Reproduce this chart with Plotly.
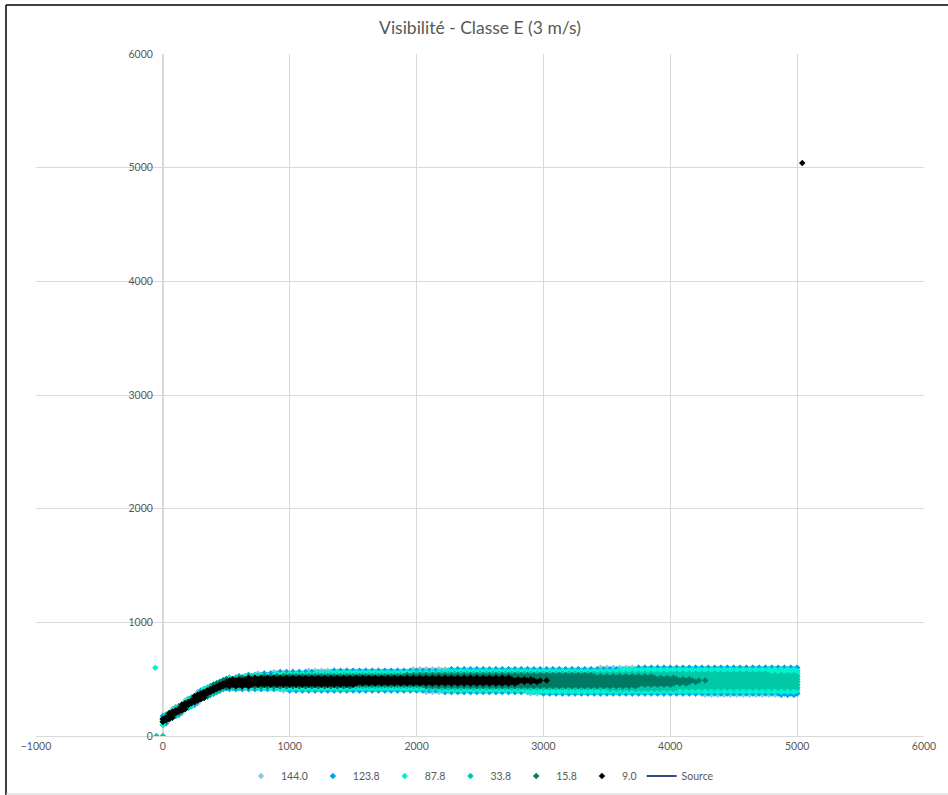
import numpy as np
import plotly.graph_objects as go

# ---- values ----
series_names = ["144.0", "123.8", "87.8", "33.8", "15.8", "9.0"]
series_colors = ["#8FC9DE", "#00A3E8", "#00F2D0", "#00C9A7", "#007A66", "#000000"]

# plume centre line (m)
center_x = [0, 100, 200, 300, 400, 500, 700, 1000, 2000, 3000, 4000, 5000]
center_y = [135, 210, 285, 355, 415, 462, 478, 485, 488, 485, 484, 484]

# half widths of each contour (m) at breakpoints
hw_x_144 = [0, 500, 700, 1000, 2000, 3000, 4000, 5000]
hw_144 = [45, 55, 70, 88, 100, 112, 120, 126]
hw_x_123 = [0, 500, 700, 1000, 2000, 3000, 4000, 5000]
hw_123 = [42, 52, 66, 85, 97, 110, 118, 122]
hw_x_87 = [0, 500, 700, 1000, 2000, 3000, 4000, 5000]
hw_87 = [38, 48, 60, 75, 85, 100, 105, 108]
hw_x_33 = [0, 500, 700, 1000, 2000, 3000, 4000, 5000]
hw_33 = [34, 42, 50, 55, 62, 72, 72, 64]
hw_x_15 = [0, 500, 700, 1000, 2000, 3000, 3700, 4000, 4330]
hw_15 = [30, 38, 45, 48, 50, 57, 50, 35, 0]
hw_x_9 = [0, 500, 700, 1000, 2000, 2500, 2800, 3080]
hw_9 = [28, 35, 40, 38, 35, 33, 25, 0]

# receptor grid spacing (m)
grid_dx = 25
grid_dy = 25

# isolated points
extra_x = {"87.8": [-60], "33.8": [-50, 0], "9.0": [5040]}
extra_y = {"87.8": [600], "33.8": [0, 0], "9.0": [5040]}

source_x = [0]
source_y = [0]

x_ticks = [-1000, 0, 1000, 2000, 3000, 4000, 5000, 6000]
y_ticks = [0, 1000, 2000, 3000, 4000, 5000, 6000]

profiles = {
    "144.0": (hw_x_144, hw_144),
    "123.8": (hw_x_123, hw_123),
    "87.8": (hw_x_87, hw_87),
    "33.8": (hw_x_33, hw_33),
    "15.8": (hw_x_15, hw_15),
    "9.0": (hw_x_9, hw_9),
}


def grid_points(hx, hw):
    xs, ys = [], []
    cols = np.arange(0, hx[-1] + 1, grid_dx)
    for i, cx in enumerate(cols):
        c = np.interp(cx, center_x, center_y)
        h = np.interp(cx, hx, hw)
        off = (grid_dy / 2) if i % 2 else 0.0
        k0 = int(np.floor((c - h - off) / grid_dy)) - 1
        k1 = int(np.ceil((c + h - off) / grid_dy)) + 1
        for k in range(k0, k1 + 1):
            yy = k * grid_dy + off
            if abs(yy - c) <= h:
                xs.append(cx)
                ys.append(yy)
    return xs, ys


fig = go.Figure()
for name, col in zip(series_names, series_colors):
    hx, hw = profiles[name]
    xs, ys = grid_points(hx, hw)
    xs += extra_x.get(name, [])
    ys += extra_y.get(name, [])
    fig.add_trace(go.Scatter(
        x=xs, y=ys, mode="markers", name=name,
        marker=dict(symbol="diamond", size=5, color=col, line=dict(width=0)),
    ))

fig.add_trace(go.Scatter(
    x=source_x, y=source_y, mode="lines", name="Source",
    line=dict(color="#2F4A8A", width=2),
))

# vertical pixel scale of the capture (page height 803 shown in 795)
SY = 803 / 795
W, H = 948, 803
L, R = 36, 24
T = round(53 * SY, 1)
B = round(H - 735 * SY, 1)
PW, PH = W - L - R, H - T - B

grid_col = "#D9D9D9"
fig.update_layout(
    width=W, height=H,
    margin=dict(l=L, r=R, t=T, b=B),
    paper_bgcolor="white", plot_bgcolor="white",
    font=dict(family="Lato, 'Open Sans', sans-serif", size=10.5, color="#595959"),
    title=dict(text="Visibilité - Classe E (3 m/s)", x=0.5, xref="paper",
               y=1 - 28 * SY / H, yanchor="middle",
               font=dict(size=17.5, color="#595959")),
    xaxis=dict(range=[-1000, 6000], tickvals=x_ticks, showgrid=True,
               gridcolor=grid_col, zeroline=True, zerolinecolor=grid_col,
               showline=True, linecolor=grid_col, ticks="",
               domain=[0, 1]),
    yaxis=dict(range=[0, 6000], tickvals=y_ticks, showgrid=True,
               gridcolor=grid_col, zeroline=True, zerolinecolor=grid_col,
               anchor="free", position=1 / 7, ticks="",
               ticklabelstandoff=10),
    showlegend=True,
    legend=dict(orientation="h", x=0.5, xanchor="center",
                y=-40 * SY / PH, yanchor="middle",
                font=dict(size=10.5, color="#595959"), itemwidth=30),
)


# outer chart frame (screen pixel coords converted to paper fractions)
def px(xp):
    return (xp - L) / PW


def py(yp):
    return (H - B - yp * SY) / PH


fig.add_shape(type="line", xref="paper", yref="paper",
              x0=px(6), x1=px(W), y0=py(4), y1=py(4),
              line=dict(color="#000000", width=1.5))
fig.add_shape(type="line", xref="paper", yref="paper",
              x0=px(6), x1=px(6), y0=py(4), y1=py(795),
              line=dict(color="#000000", width=1.5))
fig.add_shape(type="line", xref="paper", yref="paper",
              x0=px(6), x1=px(W), y0=py(793), y1=py(793),
              line=dict(color="#D0D0D0", width=1))

# pin the figure to the top-left corner of the page (no body margin)
pin_js = (
    "document.body.style.margin='0';"
    "var d=document.getElementById('{plot_id}');"
    "d.style.position='fixed';d.style.left='0px';d.style.top='0px';"
)

fig.write_html("out.html", post_script=pin_js,
               config={"displayModeBar": False})
